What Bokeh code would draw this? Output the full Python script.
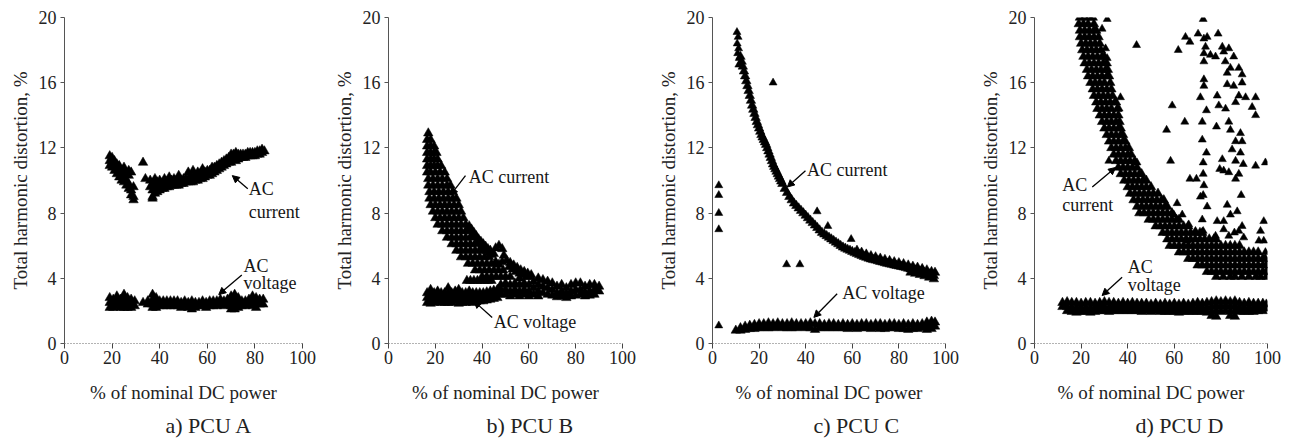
from bokeh.plotting import figure
from bokeh.layouts import row
from bokeh.models import Arrow, NormalHead, Title
from bokeh.embed import file_html
from bokeh.resources import INLINE
from bokeh.core.properties import value

FONT = "Liberation Serif"

X_TICKS = [0, 20, 40, 60, 80, 100]
Y_TICKS = [0, 4, 8, 12, 16, 20]
X_LABEL = "% of nominal DC power"
Y_LABEL = "Total harmonic distortion, %"
CAPTIONS = ["a) PCU A", "b) PCU B", "c) PCU C", "d) PCU D"]

# ---------------- PCU A ----------------
a_cur_cx = [19, 20, 21, 22, 23, 24, 25, 26, 27, 28, 29, 33, 34, 36, 37, 38, 39, 40, 41, 42, 43, 44, 45, 46,
            47, 48, 49, 50, 51, 52, 53, 54, 55, 56, 57, 58, 59, 60, 61, 62, 63, 64, 65, 66, 67, 68, 69, 70,
            71, 72, 73, 74, 75, 76, 77, 78, 79, 80, 81, 82, 83, 84]
a_cur_cy = [[11.5, 11.2, 10.9], [11.4, 11.1, 10.8], [11.2, 10.9, 10.6], [11.0, 10.7, 10.4], [10.9, 10.8, 10.5, 10.2],
            [10.6, 10.3, 10.0], [10.8, 10.5, 10.2, 9.9], [10.4, 10.0, 9.7], [10.6, 10.3, 9.8, 9.5], [10.5, 9.4, 9.1],
            [9.6, 9.0, 8.8], [11.1], [10.1], [10.0, 9.6], [9.8, 9.4, 9.0, 8.9], [10.1, 9.8, 9.5, 9.2], [9.9, 9.6, 9.3],
            [10.0, 9.7, 9.4], [9.8, 9.5], [10.1, 9.8, 9.5], [9.9, 9.6], [10.2, 9.9, 9.6], [10.0, 9.7], [10.1, 9.9, 9.7],
            [10.0, 9.7], [10.3, 10.0, 9.7], [10.0, 9.8], [10.1, 9.8], [10.1, 9.9], [10.5, 10.1, 9.9], [10.2, 9.9],
            [10.6, 10.2, 9.9], [10.3, 10.0], [10.5, 10.3, 10.0], [10.4, 10.1], [10.7, 10.4, 10.1], [10.5, 10.2],
            [10.6, 10.3], [10.6, 10.3], [10.8, 10.7, 10.4], [10.8, 10.5], [10.9, 10.6], [11.0, 10.7], [11.1, 10.8],
            [11.2, 10.9], [11.3, 11.0], [11.4, 11.1], [11.6, 11.4, 11.1], [11.6, 11.3], [11.7, 11.4, 11.2],
            [11.6, 11.3], [11.6, 11.4], [11.6, 11.4], [11.6, 11.4], [11.7, 11.5], [11.7, 11.5], [11.7, 11.5],
            [11.7, 11.5], [11.8, 11.6], [11.8, 11.6], [11.9, 11.7], [11.8]]

a_volt_cx = [19, 20.5, 22, 23.5, 25, 26.5, 28, 29.5, 33, 35, 37, 38.5, 40, 41.5, 43, 44.5, 46, 47.5, 49, 50.5,
             52, 53.5, 55, 56.5, 58, 59.5, 61, 62.5, 64, 65.5, 67, 68.5, 70, 71.5, 73, 74.5, 76, 77.5, 79, 80.5,
             82, 83.5]
a_volt_cy = [[2.8, 2.5, 2.2], [2.7, 2.4, 2.2], [2.9, 2.6, 2.3], [2.7, 2.4, 2.2], [3.0, 2.7, 2.4, 2.2],
             [2.8, 2.5, 2.2], [2.7, 2.4, 2.2], [2.6, 2.3], [2.5], [2.6, 2.4], [3.0, 2.7, 2.4, 2.2], [2.8, 2.5, 2.2],
             [2.6, 2.3], [2.6, 2.3], [2.6, 2.3], [2.6, 2.3], [2.6, 2.3], [2.6, 2.3], [2.5, 2.2], [2.6, 2.3],
             [2.5, 2.2], [2.6, 2.3, 2.1], [2.5, 2.2], [2.5, 2.3], [2.6, 2.3], [2.5, 2.2], [2.6, 2.3], [2.6, 2.3],
             [2.6, 2.3], [2.7, 2.4], [2.6, 2.3], [2.7, 2.4], [2.9, 2.6, 2.3, 2.1], [3.0, 2.7, 2.4, 2.1],
             [2.8, 2.5, 2.2], [2.6, 2.3], [2.6, 2.3], [2.7, 2.4], [2.9, 2.6, 2.3], [2.8, 2.5, 2.2], [2.7, 2.4],
             [2.7, 2.4]]

# ---------------- PCU B ----------------
b_cur_ry = [12.9, 12.5, 12.1, 11.7, 11.3, 10.9, 10.5, 10.1, 9.7, 9.3, 8.9, 8.5, 8.1, 7.7, 7.3, 6.9, 6.5,
            6.1, 5.7, 5.3, 4.9, 4.5, 4.1]
b_cur_rx = [[17], [16.5, 18], [16.5, 18, 19.5], [16.5, 18, 19.5, 20.5], [16.5, 18, 19.5, 21],
            [16.5, 18, 19.5, 21, 22.5], [16.5, 18, 20, 22, 24], [17, 19, 21, 23, 25], [17, 19, 21, 23, 25, 26.5],
            [17.5, 19.5, 21.5, 23.5, 25.5, 27.5], [17.5, 19.5, 21.5, 23.5, 25.5, 27.5, 29],
            [18, 20, 22, 24, 26, 28, 30], [19, 21, 23, 25, 27, 29, 31], [20, 22, 24, 26, 28, 30, 32],
            [21, 23, 25, 27, 29, 31, 33], [23, 25, 27, 29, 31, 33, 34.5], [25, 27, 29, 31, 33, 35],
            [27, 29, 31, 33, 35, 37], [29, 31, 33, 35, 37, 39, 40.5], [31, 33, 35, 37, 39, 41, 43],
            [34, 36, 38, 40, 42, 44, 46], [37, 39, 41, 43, 45, 47, 49], [40, 42, 44, 46, 48, 50, 52]]

b_branch_x = [34.5, 35.5, 36.5, 37.5, 38.5, 39.5, 40.5, 41.5, 42.5, 43.5,
              36, 37, 38, 39, 40, 41, 42, 43, 44, 45,
              45.8, 47.2, 48.6, 49.3, 48.6, 47.2, 45.8,
              50.5, 52, 53.5, 55, 56.5, 58, 59.5, 61,
              51.5, 53, 54.5, 56, 57.5, 59,
              33.5, 35, 36.5, 38, 39.5, 41, 42.5, 44]
b_branch_y = [7.2, 7.0, 6.8, 6.6, 6.4, 6.25, 6.1, 5.95, 5.8, 5.7,
              6.75, 6.55, 6.35, 6.15, 6.0, 5.85, 5.7, 5.55, 5.45, 5.5,
              5.85, 6.0, 5.8, 5.4, 5.0, 4.85, 5.0,
              5.1, 4.95, 4.8, 4.65, 4.5, 4.4, 4.3, 4.2,
              4.7, 4.55, 4.4, 4.3, 4.2, 4.1,
              3.85, 3.85, 3.85, 3.85, 3.85, 3.85, 3.85, 3.85]

b_tail_cx = [48, 50, 52, 54, 56, 58, 60, 62, 64, 66, 68, 70, 72, 74, 76, 78, 80, 82, 84, 86, 88, 90]
b_tail_cy = [[3.6, 3.3, 3.0], [3.7, 3.3, 3.0], [3.6, 3.2, 2.9], [3.7, 3.3, 3.0], [4.0, 3.6, 3.2, 2.9],
             [3.7, 3.3, 3.0], [4.1, 3.6, 3.2, 2.9], [3.8, 3.4, 3.0], [4.0, 3.6, 3.2, 2.9], [3.9, 3.5, 3.1],
             [3.8, 3.4, 3.0], [3.7, 3.3, 2.95], [3.5, 3.1, 2.85], [3.6, 3.2, 2.9], [3.4, 3.05, 2.8],
             [3.6, 3.2, 2.9], [3.7, 3.3, 2.95], [3.7, 3.3, 3.0], [3.5, 3.15, 2.9], [3.6, 3.2, 2.95],
             [3.6, 3.3, 3.0], [3.5, 3.2]]

b_volt_cx = [16.5, 18, 19.5, 21, 22.5, 24, 25.5, 27, 28.5, 30, 31.5, 33, 34.5, 36, 37.5, 39, 40.5, 42, 43.5,
             45, 46.5]
b_volt_cy = [[3.1, 2.8, 2.5], [3.3, 3.0, 2.7, 2.45], [3.1, 2.8, 2.5], [3.2, 2.9, 2.6], [3.1, 2.8, 2.5],
             [3.1, 2.8, 2.5], [3.4, 3.1, 2.8, 2.5], [3.1, 2.8, 2.5], [3.2, 2.9, 2.6], [3.3, 3.0, 2.7, 2.45],
             [3.1, 2.8, 2.5], [3.1, 2.8, 2.5], [3.2, 2.9, 2.6], [3.1, 2.8, 2.5], [3.1, 2.8, 2.55],
             [3.1, 2.8, 2.6], [3.1, 2.85, 2.6], [3.15, 2.9, 2.65], [3.2, 2.95, 2.7], [3.25, 3.0, 2.75],
             [3.3, 3.05, 2.8]]

# ---------------- PCU C ----------------
c_top_x = [10.5, 11.0, 10.6, 11.2, 10.8, 11.5, 11.3]
c_top_y = [19.1, 18.8, 18.4, 18.1, 17.8, 17.5, 17.1]

c_cur_x = [12, 13, 14, 15, 16, 17, 18, 19, 20, 21, 22, 23, 24, 25, 26, 27, 28, 29, 30, 31, 32, 33, 34, 35,
           36, 37, 38, 39, 40, 41, 42, 43, 44, 45, 46, 47, 48, 49, 50, 51, 52, 53, 54, 55, 56, 57, 58, 59,
           60, 61, 62, 63, 64, 65, 66, 67, 68, 69, 70, 71, 72, 73, 74, 75, 76, 77, 78, 79, 80, 81, 82, 83,
           84, 85, 86, 87, 88, 89, 90, 91, 92, 93, 94, 95]
c_cur_y = [17.6, 17.0, 16.4, 15.8, 15.2, 14.6, 14.1, 13.6, 13.2, 12.8, 12.5, 12.2, 11.8, 11.4, 11.0, 10.7,
           10.4, 10.1, 9.8, 9.5, 9.25, 9.0, 8.8, 8.6, 8.45, 8.3, 8.15, 8.0, 7.85, 7.7, 7.55, 7.4, 7.25, 7.1,
           6.95, 6.8, 6.7, 6.6, 6.5, 6.4, 6.3, 6.2, 6.1, 6.0, 5.9, 5.83, 5.76, 5.7, 5.63, 5.56, 5.5, 5.44,
           5.38, 5.32, 5.27, 5.22, 5.17, 5.13, 5.1, 5.06, 5.02, 4.98, 4.94, 4.9, 4.87, 4.84, 4.8, 4.77, 4.74,
           4.71, 4.68, 4.64, 4.6, 4.56, 4.52, 4.49, 4.46, 4.42, 4.38, 4.34, 4.3, 4.25, 4.2, 4.15]

c_cur2_x = [12.5, 13.5, 14.5, 15.5, 16.5, 17.5, 18.5, 19.5, 20.5, 21.5, 22.5, 23.5, 24.5, 25.5, 26.5, 27.5,
            28.5, 29.5, 62, 64, 66, 68, 70, 72, 74, 76, 78, 80, 82, 84, 86, 88, 90, 92, 94, 95.5,
            85, 87, 89, 91, 93, 95]
c_cur2_y = [17.3, 16.7, 16.1, 15.5, 14.9, 14.35, 13.85, 13.4, 13.0, 12.65, 12.35, 12.0, 11.6, 11.2, 10.85,
            10.55, 10.25, 9.95, 5.7, 5.58, 5.47, 5.37, 5.3, 5.22, 5.14, 5.07, 5.0, 4.94, 4.88, 4.8, 4.72,
            4.66, 4.58, 4.5, 4.4, 4.35, 4.36, 4.29, 4.22, 4.14, 4.05, 3.95]

c_out_x = [2.7, 2.7, 2.7, 2.7, 26, 31.8, 37.5, 44.9, 49.5, 59.5, 2.7]
c_out_y = [9.7, 9.1, 8.0, 7.0, 16.0, 4.85, 4.85, 8.1, 7.2, 6.4, 1.1]

c_volt_cx = [10, 12, 14, 16, 18, 20, 22, 24, 26, 28, 30, 32, 34, 36, 38, 40, 42, 44, 46, 48, 50, 52, 54,
             56, 58, 60, 62, 64, 66, 68, 70, 72, 74, 76, 78, 80, 82, 84, 86, 88, 90, 92, 94, 95.5]
c_volt_cy = [[0.8], [0.95, 0.8], [1.05, 0.85], [1.1, 0.9], [1.15, 0.9], [1.2, 0.95], [1.2, 0.95],
             [1.25, 0.95], [1.2, 0.95], [1.25, 1.0], [1.2, 0.95], [1.2, 0.95], [1.25, 0.95], [1.2, 0.95],
             [1.2, 1.0], [1.2, 0.95], [1.25, 0.95], [1.2, 0.85], [1.2, 0.95], [1.15, 0.95], [1.2, 0.95],
             [1.2, 0.95], [1.15, 0.95], [1.2, 0.95], [1.15, 0.9], [1.2, 0.95], [1.15, 0.9], [1.2, 0.95],
             [1.2, 0.95], [1.15, 0.9], [1.2, 0.95], [1.2, 0.9], [1.15, 0.9], [1.2, 0.95], [1.2, 0.95],
             [1.15, 0.9], [1.2, 0.9], [1.15, 0.85], [1.2, 0.9], [1.15, 0.9], [1.2, 0.95], [1.3, 1.05, 0.85],
             [1.35, 1.1, 0.9], [1.3, 1.05]]

# ---------------- PCU D ----------------
d_cur_ry = [20.0, 19.6, 19.2, 18.8, 18.4, 18.0, 17.6, 17.2, 16.8, 16.4, 16.0, 15.6, 15.2, 14.8, 14.4, 14.0,
            13.6, 13.2, 12.8, 12.4, 12.0, 11.6, 11.2, 10.8, 10.4, 10.0, 9.6, 9.2, 8.8, 8.4, 8.0, 7.6, 7.2,
            6.8, 6.4, 6.0, 5.6, 5.2, 4.8, 4.4, 4.1]
d_cur_rx = [[19.5, 21.5, 23.5, 25], [19, 21, 23, 25.5], [19.5, 21.5, 23.5, 25.5, 26.5],
            [19.5, 21.5, 23.5, 25.5, 27.5], [20, 22, 24, 26, 28], [20.5, 22.5, 24.5, 26.5, 28.5],
            [21, 23, 25, 27, 29, 30], [21.5, 23.5, 25.5, 27.5, 29.5, 31], [22.5, 24.5, 26.5, 28.5, 30.5, 31.5],
            [23, 25, 27, 29, 31, 32], [24, 26, 28, 30, 32.5], [25, 27, 29, 31, 33], [25.5, 27.5, 29.5, 31.5, 33.5],
            [26.5, 28.5, 30.5, 32.5, 34.5, 35], [27, 29, 31, 33, 35.5], [28, 30, 32, 34, 36],
            [29, 31, 33, 35, 36.5], [30, 32, 34, 36, 37], [31, 33, 35, 37, 38], [32, 34, 36, 38, 39],
            [33, 35, 37, 39, 40.5], [34, 36, 38, 40, 41.5], [35, 37, 39, 41, 43], [36, 38, 40, 42, 44],
            [37, 39, 41, 43, 45, 46], [38.5, 40.5, 42.5, 44.5, 46.5, 48], [40, 42, 44, 46, 48, 50],
            [41, 43, 45, 47, 49, 51, 53], [42.5, 44.5, 46.5, 48.5, 50.5, 52.5, 54.5, 55.5],
            [44, 46, 48, 50, 52, 54, 56, 57], [45, 47, 49, 51, 53, 55, 57, 59], [49, 51, 53, 55, 57, 59, 61, 62],
            [52, 54, 56, 58, 60, 62, 64, 66], [55, 57, 59, 61, 63, 65, 67, 69, 71, 72],
            [57, 59, 61, 63, 65, 67, 69, 71, 73, 75, 77, 78],
            [58, 60, 62, 64, 66, 68, 70, 72, 74, 76, 78, 80, 82, 84, 86, 88],
            [62, 64, 66, 68, 70, 72, 74, 76, 78, 80, 82, 84, 86, 88, 90, 92, 94, 96],
            [66, 68, 70, 72, 74, 76, 78, 80, 82, 84, 86, 88, 90, 92, 94, 96, 98, 99],
            [70, 72, 74, 76, 78, 80, 82, 84, 86, 88, 90, 92, 94, 96, 98, 99.5],
            [74, 76, 78, 80, 82, 84, 86, 88, 90, 92, 94, 96, 98, 99.5],
            [78, 81, 84, 86, 89, 92, 95, 97, 99.5]]

d_out_x = [31.2, 29, 30.5, 31.2, 43.8, 36.9, 36.3, 31.9, 44, 47,
           72.4, 64.8, 66.7, 61.7, 70.2, 72.7, 74.1, 78.8, 73.4, 72.7,
           75.5, 77.7, 80.6, 81.2, 83.4, 85.5, 72.7, 81.9, 84.1, 87.7,
           82.7, 89.1, 72.7, 72.7, 82.7, 85.5, 89.1, 87.7, 90.6, 94.9,
           71.2, 78.4, 86.3, 79.1, 82, 93.4, 94.9, 73.8, 59.1, 64.5,
           72, 78.1, 83.4, 84.1, 56.7, 88.4, 86.3, 72, 89.1, 84.8,
           73.8, 88.4, 86.3, 80.6, 89.6, 58.4, 72.4, 79.5, 81.2, 83.4,
           94.9, 99.1, 66.7, 69.5, 72.4, 86.3, 87.7, 72.7, 71.2, 72.4,
           61.2, 74.1, 82.7, 88.7, 59.8, 63.4, 72, 78.4, 81.2, 84.1,
           87, 89.1, 98.4, 66.2, 69.1, 72.4, 81.2, 85.8, 87.7, 65.5,
           77.7, 83.4, 89.8, 96.3, 97, 98.4, 99.1]
d_out_y = [19.9, 19.3, 18.1, 17.5, 18.3, 15.1, 14.4, 11.2, 11.1, 10.0,
           19.9, 18.8, 18.5, 18.0, 19.0, 18.7, 18.8, 19.0, 18.2, 17.8,
           17.7, 17.6, 18.2, 17.9, 18.1, 17.6, 17.3, 17.3, 16.9, 16.9,
           16.6, 16.5, 16.2, 15.8, 15.9, 15.8, 16.0, 15.2, 15.1, 15.1,
           15.1, 15.2, 14.8, 14.6, 14.4, 14.5, 14.0, 14.3, 14.6, 13.6,
           13.6, 13.3, 13.6, 13.1, 13.1, 12.9, 12.4, 12.5, 12.4, 11.9,
           11.7, 11.7, 11.2, 11.3, 11.0, 11.2, 11.1, 10.7, 10.6, 10.5,
           10.9, 11.1, 10.1, 10.1, 10.4, 10.1, 10.4, 9.7, 9.0, 9.1,
           8.6, 8.4, 8.5, 9.1, 7.9, 7.9, 7.6, 7.5, 7.5, 7.9,
           8.1, 7.2, 7.5, 7.3, 6.9, 6.9, 7.0, 6.8, 6.9, 6.3,
           6.6, 6.6, 6.5, 6.3, 6.9, 6.3, 5.6]

d_volt_cx = [12, 14, 16, 18, 20, 22, 24, 26, 28, 30, 32, 34, 36, 38, 40, 42, 44, 46, 48, 50, 52, 54, 56, 58,
             60, 62, 64, 66, 68, 70, 72, 74, 76, 78, 80, 82, 84, 86, 88, 90, 92, 94, 96, 98, 99.5]
d_volt_cy = [[2.5, 2.25], [2.55, 2.25, 2.0], [2.5, 2.2, 1.95], [2.5, 2.2, 1.9], [2.45, 2.2, 1.95],
             [2.5, 2.2, 1.95], [2.5, 2.2, 1.9], [2.45, 2.2, 1.95], [2.5, 2.25, 2.0], [2.55, 2.25, 2.0],
             [2.5, 2.2, 1.95], [2.5, 2.25, 2.0], [2.45, 2.2, 2.0], [2.5, 2.25, 2.0], [2.45, 2.2, 2.0],
             [2.5, 2.25, 2.0], [2.45, 2.2, 2.0], [2.45, 2.2, 1.95], [2.45, 2.2, 2.0], [2.4, 2.15, 1.95],
             [2.45, 2.2, 2.0], [2.4, 2.15, 1.95], [2.45, 2.2, 1.95], [2.4, 2.15, 1.95], [2.45, 2.2, 1.95],
             [2.4, 2.15, 1.9], [2.45, 2.2, 1.95], [2.4, 2.15, 1.95], [2.45, 2.2, 1.95], [2.5, 2.2, 1.95],
             [2.45, 2.2, 1.95], [2.5, 2.2, 1.9], [2.55, 2.25, 1.95, 1.7], [2.6, 2.3, 2.0, 1.65],
             [2.55, 2.25, 1.95], [2.6, 2.3, 2.0], [2.55, 2.25, 1.95, 1.7], [2.6, 2.3, 2.0, 1.65],
             [2.5, 2.2, 1.95], [2.45, 2.2, 1.95], [2.5, 2.2, 1.95], [2.45, 2.2, 1.95], [2.45, 2.2, 2.0],
             [2.45, 2.2, 2.0], [2.4, 2.15]]


def from_cols(xs, ys_lists):
    ox, oy = [], []
    for x, ys in zip(xs, ys_lists, strict=True):
        for y in ys:
            ox.append(x)
            oy.append(y)
    return ox, oy


def from_rows(ys, xs_lists):
    ox, oy = [], []
    for y, xs in zip(ys, xs_lists, strict=True):
        for x in xs:
            ox.append(x)
            oy.append(y)
    return ox, oy


def flat(xs, ys):
    assert len(xs) == len(ys)
    return list(xs), list(ys)


BAND = 9.5   # marker size in dense bands
SPARSE = 8.0  # marker size for isolated points


def make_panel(caption, layers, fw, bl, br, cap_off, labels, arrows):
    p = figure(frame_width=fw, frame_height=326, x_range=(0, 100), y_range=(0, 20),
               min_border_left=bl, min_border_right=br, min_border_top=17, min_border_bottom=96,
               output_backend="svg", toolbar_location=None)
    p.outline_line_color = None
    p.xgrid.visible = False
    p.ygrid.visible = False
    p.background_fill_color = "white"
    p.border_fill_color = "white"

    xa = p.xaxis[0]
    xa.ticker = X_TICKS
    xa.axis_label = X_LABEL
    xa.axis_line_color = "#666666"
    xa.axis_line_dash = "1 2"
    xa.major_tick_line_color = "#444444"
    xa.major_tick_out = 5
    xa.major_tick_in = 0
    xa.minor_tick_out = 0
    xa.minor_tick_in = 0
    xa.major_label_standoff = 2
    xa.axis_label_standoff = 15

    ya = p.yaxis[0]
    ya.ticker = Y_TICKS
    ya.axis_label = Y_LABEL
    ya.axis_line_color = "#555555"
    ya.major_tick_line_color = "#555555"
    ya.major_tick_out = 4
    ya.major_tick_in = 0
    ya.minor_tick_out = 0
    ya.minor_tick_in = 0
    ya.major_label_standoff = 4
    ya.axis_label_standoff = 5

    for ax in (xa, ya):
        ax.major_label_text_font = FONT
        ax.major_label_text_font_size = "18px"
        ax.major_label_text_color = "#222222"
        ax.axis_label_text_font = FONT
        ax.axis_label_text_font_size = "19px"
        ax.axis_label_text_font_style = "normal"
        ax.axis_label_text_color = "#222222"

    for (xs, ys), size in layers:
        p.scatter(x=xs, y=ys, marker="triangle", size=size, fill_color="black",
                  line_color="black", line_width=0.5)

    lx = [l[1] for l in labels]
    ly = [l[2] for l in labels]
    lt = [l[0] for l in labels]
    p.text(x=lx, y=ly, text=lt, text_font=value(FONT), text_font_size=value("18px"),
           text_baseline="middle", text_align="left", text_color="#151515")

    for (x0, y0, x1, y1) in arrows:
        p.add_layout(Arrow(end=NormalHead(size=7, fill_color="black", line_color="black", line_width=1),
                           x_start=x0, y_start=y0, x_end=x1, y_end=y1,
                           line_color="black", line_width=1.3))

    t = Title(text=caption, align="left", offset=cap_off, standoff=10,
              text_font=FONT, text_font_size="22px", text_font_style="normal", text_color="#222222")
    p.add_layout(t, "below")
    return p


pa = make_panel(CAPTIONS[0],
                [(from_cols(a_cur_cx, a_cur_cy), BAND), (from_cols(a_volt_cx, a_volt_cy), BAND)],
                238, 64, 24, 101,
                [("AC", 77.4, 9.45), ("current", 77.4, 8.05), ("AC", 75.2, 4.78), ("voltage", 75.2, 3.71)],
                [(77.0, 9.5, 70.5, 10.3), (74.5, 4.2, 64.8, 3.0)])

pb = make_panel(CAPTIONS[1],
                [(from_rows(b_cur_ry, b_cur_rx), BAND), (flat(b_branch_x, b_branch_y), BAND),
                 (from_cols(b_tail_cx, b_tail_cy), BAND), (from_cols(b_volt_cx, b_volt_cy), BAND)],
                234, 62, 22, 98,
                [("AC current", 34.3, 10.2), ("AC voltage", 45.0, 1.3)],
                [(32.9, 10.3, 26.5, 9.1), (44.3, 1.6, 36.5, 2.6)])

pc = make_panel(CAPTIONS[2],
                [(flat(c_top_x, c_top_y), SPARSE), (flat(c_cur_x, c_cur_y), BAND),
                 (flat(c_cur2_x, c_cur2_y), BAND), (flat(c_out_x, c_out_y), SPARSE),
                 (from_cols(c_volt_cx, c_volt_cy), BAND)],
                233, 68, 17, 101,
                [("AC current", 40.6, 10.67), ("AC voltage", 55.7, 3.1)],
                [(39.9, 10.6, 32.1, 9.6), (53.5, 3.05, 43.5, 1.6)])

pd_ = make_panel(CAPTIONS[3],
                 [(from_rows(d_cur_ry, d_cur_rx), BAND), (flat(d_out_x, d_out_y), SPARSE),
                  (from_cols(d_volt_cx, d_volt_cy), BAND)],
                 233, 72, 16, 101,
                 [("AC", 11.9, 9.7), ("current", 11.9, 8.47), ("AC", 40.0, 4.68), ("voltage", 40.0, 3.56)],
                 [(24.8, 9.6, 34.8, 10.8), (37.6, 4.07, 29.0, 2.94)])

layout = row(pa, pb, pc, pd_)

with open("out.html", "w") as f:
    f.write(file_html(layout, INLINE))
